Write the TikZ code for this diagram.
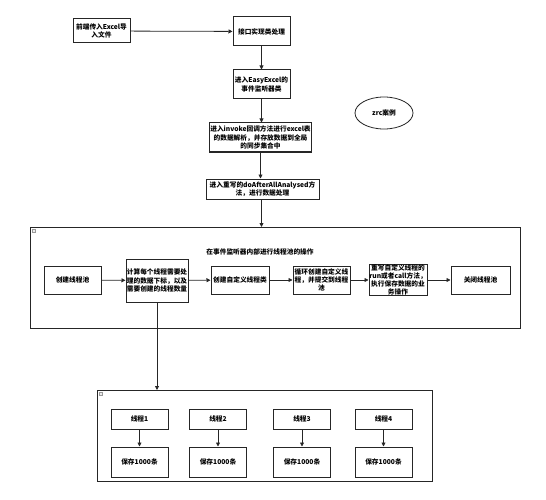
\documentclass[tikz,border=0pt]{standalone}
\usepackage{fontspec}
\setmainfont{Noto Sans CJK SC}
\usetikzlibrary{positioning,arrows.meta,shapes.geometric}

\begin{document}
\begin{tikzpicture}[
  x=1pt, y=-1pt,
  >={Triangle[length=4pt,width=4pt]},
  box/.style={rectangle, draw=black!85, line width=1pt, inner sep=1pt,
              font=\fontsize{6.7}{8.2}\selectfont\bfseries, align=center},
  group/.style={draw=black!85, line width=1pt},
  fold/.style={draw=black!40, fill=black!8, line width=0.3pt},
  flow/.style={->, line width=0.8pt, black!85},
]
  \useasboundingbox (0,0) rectangle (546,500);

  % Top of the flow
  \node[box, minimum width=57pt, minimum height=24pt] (upload) at (101.5,31)
    {前端传入Excel导\\入文件};
  \node[box, minimum width=57pt, minimum height=29pt] (impl) at (261.5,31.5)
    {接口实现类处理};
  \node[box, minimum width=57pt, minimum height=29pt] (listener) at (261.5,84.5)
    {进入EasyExcel的\\事件监听器类};
  \node[box, minimum width=97pt, minimum height=29pt] (invoke) at (260.5,137.5)
    {进入invoke回调方法进行excel表\\的数据解析，并存放数据到全局\\的同步集合中};
  \node[box, minimum width=113pt, minimum height=20pt] (after) at (262.5,189)
    {进入重写的doAfterAllAnalysed方\\法，进行数据处理};
  \node[ellipse, draw=black!85, line width=0.8pt, minimum width=58pt,
        minimum height=32pt, font=\fontsize{6.7}{8.2}\selectfont\bfseries] (legend) at (384,113)
    {zrc案例};

  % Thread pool group
  \draw[group] (30,227) rectangle (520,328);
  \draw[fold] (32,229) rectangle (35,232);
  \coordinate (pooltop) at (261.5,227);
  \node[font=\fontsize{6.7}{8.2}\selectfont\bfseries] (pooltitle) at (260,252)
    {在事件监听器内部进行线程池的操作};

  \node[box, minimum width=57pt, minimum height=28pt] (create) at (72.5,280)
    {创建线程池};
  \node[box, minimum width=62pt, minimum height=43pt, inner sep=0pt] (calc) at (157,280.5)
    {计算每个线程需要处\\理的数据下标，以及\\需要创建的线程数量};
  \node[box, minimum width=58pt, minimum height=28pt] (thcls) at (240,280)
    {创建自定义线程类};
  \node[box, minimum width=57pt, minimum height=28pt] (submit) at (321.5,280)
    {循环创建自定义线\\程，并提交到线程\\池};
  \node[box, minimum width=58pt, minimum height=30pt, inner sep=0pt] (run) at (398,280)
    {重写自定义线程的\\run或者call方法，\\执行保存数据的业\\务操作};
  \node[box, minimum width=59pt, minimum height=28pt] (close) at (480.5,280)
    {关闭线程池};

  % Worker group
  \draw[group] (97,390) rectangle (432,481);
  \draw[fold] (99,392) rectangle (102,395);
  \coordinate (worktop) at (157,390);

  \foreach \n/\x in {1/139.5, 2/218, 3/302, 4/383.5} {
    \node[box, minimum width=57pt, minimum height=20pt] (th\n) at (\x,419)
      {线程\n};
    \node[box, minimum width=57pt, minimum height=30pt] (save\n) at (\x,462)
      {保存1000条};
    \draw[flow] (th\n) -- (save\n);
  }

  % Connectors
  \draw[flow] (upload) -- (impl);
  \draw[flow] (impl) -- (listener);
  \draw[flow] (listener.south) -- (listener.south |- invoke.north);
  \draw[flow] (invoke.south) -- (invoke.south |- after.north);
  \draw[flow] (after.south -| pooltop) -- (pooltop);
  \draw[flow] (create) -- (calc);
  \draw[flow] (calc) -- (thcls);
  \draw[flow] (thcls) -- (submit);
  \draw[flow] (submit) -- (run);
  \draw[flow] (run) -- (close);
  \draw[flow] (calc.south) -- (worktop);
\end{tikzpicture}
\end{document}
